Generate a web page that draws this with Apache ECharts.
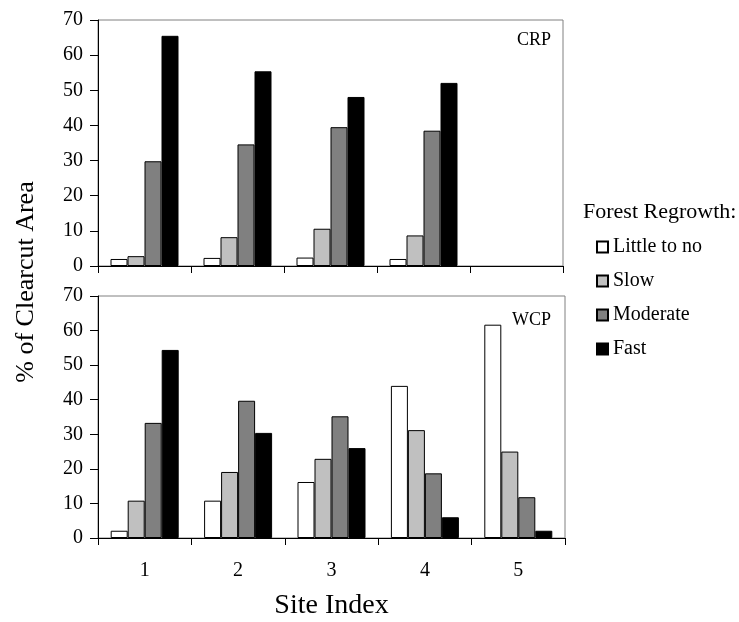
<!DOCTYPE html>
<html>
<head>
<meta charset="utf-8">
<script src="https://cdn.jsdelivr.net/npm/echarts@6/dist/echarts.min.js"></script>
<style>
  html, body { margin: 0; padding: 0; background: #fff; }
  #chart { width: 739px; height: 622px; }
</style>
</head>
<body>
<div id="chart"></div>
<script>
// Site indices along the x axis
const sites = ['1', '2', '3', '4', '5'];
const regrowthClasses = ['Little to no', 'Slow', 'Moderate', 'Fast'];
const classColors = ['#ffffff', '#c0c0c0', '#808080', '#000000'];

// CRP: % of clearcut area per regrowth class (no data for site 5)
const crpLittle   = [2.0, 2.3, 2.4, 2.0, null];
const crpSlow     = [2.8, 8.2, 10.6, 8.7, null];
const crpModerate = [29.8, 34.6, 39.5, 38.5, null];
const crpFast     = [65.5, 55.4, 48.1, 52.1, null];

// WCP: % of clearcut area per regrowth class
const wcpLittle   = [2.1, 10.8, 16.2, 44.0, 61.7];
const wcpSlow     = [10.8, 19.1, 22.9, 31.2, 25.0];
const wcpModerate = [33.3, 39.7, 35.2, 18.7, 11.8];
const wcpFast     = [54.4, 30.4, 26.0, 6.0, 2.1];

const yTicks = [0, 10, 20, 30, 40, 50, 60, 70];

const serif = 'Liberation Serif, Times New Roman, serif';
const crpData = [crpLittle, crpSlow, crpModerate, crpFast];
const wcpData = [wcpLittle, wcpSlow, wcpModerate, wcpFast];

function makeSeries(dataSets, idx) {
  return dataSets.map((vals, i) => ({
    name: regrowthClasses[i],
    type: 'bar',
    xAxisIndex: idx,
    yAxisIndex: idx,
    data: vals,
    barWidth: 17,
    barGap: '0%',
    itemStyle: { color: classColors[i], borderColor: '#000', borderWidth: 1 },
    emphasis: { disabled: true }
  }));
}

function xAxisFor(idx, withLabels) {
  return {
    type: 'category',
    gridIndex: idx,
    data: sites,
    boundaryGap: true,
    axisLine: { lineStyle: { color: '#000', width: 1 } },
    axisTick: { show: true, length: 7, inside: false, lineStyle: { color: '#000' } },
    axisLabel: { show: withLabels, margin: 23, fontFamily: serif, fontSize: 20, color: '#000' },
    name: withLabels ? 'Site Index' : '',
    nameLocation: 'middle',
    nameGap: 68,
    nameMoveOverlap: false,
    nameTextStyle: { fontFamily: serif, fontSize: 28, color: '#000', verticalAlign: 'middle' }
  };
}

function yAxisFor(idx) {
  return {
    type: 'value',
    gridIndex: idx,
    min: yTicks[0],
    max: yTicks[yTicks.length - 1],
    interval: yTicks[1] - yTicks[0],
    axisLine: { show: true, lineStyle: { color: '#000', width: 1 } },
    axisTick: { show: true, length: 8, lineStyle: { color: '#000' } },
    axisLabel: { margin: 15, fontFamily: serif, fontSize: 20, color: '#000' },
    splitLine: { show: false }
  };
}

const chart = echarts.init(document.getElementById('chart'), null, { renderer: 'canvas' });

chart.setOption({
  animation: false,
  backgroundColor: '#fff',
  title: {
    text: 'Forest Regrowth:',
    left: 578,
    top: 196,
    textStyle: { fontFamily: serif, fontSize: 22, fontWeight: 'normal', color: '#000' }
  },
  legend: {
    data: regrowthClasses,
    orient: 'vertical',
    left: 591,
    top: 232,
    itemWidth: 11,
    itemHeight: 11,
    itemGap: 14,
    icon: 'rect',
    selectedMode: false,
    textStyle: { fontFamily: serif, fontSize: 20, color: '#000' }
  },
  grid: [
    { left: 98, right: 176, top: 20, height: 246, show: true, borderColor: '#808080', borderWidth: 1,
      backgroundColor: 'transparent', containLabel: false, outerBoundsMode: 'none' },
    { left: 98, right: 174, top: 296, height: 242, show: true, borderColor: '#808080', borderWidth: 1,
      backgroundColor: 'transparent', containLabel: false, outerBoundsMode: 'none' }
  ],
  xAxis: [xAxisFor(0, false), xAxisFor(1, true)],
  yAxis: [yAxisFor(0), yAxisFor(1)],
  series: makeSeries(crpData, 0).concat(makeSeries(wcpData, 1)),
  graphic: [
    {
      type: 'text',
      left: 517, top: 31,
      style: { text: 'CRP', fontFamily: serif, fontSize: 18, fill: '#000' }
    },
    {
      type: 'text',
      left: 512, top: 311,
      style: { text: 'WCP', fontFamily: serif, fontSize: 18, fill: '#000' }
    },
    {
      type: 'text',
      x: 26, y: 282,
      rotation: Math.PI / 2,
      style: {
        text: '% of Clearcut Area',
        fontFamily: serif, fontSize: 26, fill: '#000',
        align: 'center', verticalAlign: 'middle'
      }
    }
  ]
});
</script>
</body>
</html>
